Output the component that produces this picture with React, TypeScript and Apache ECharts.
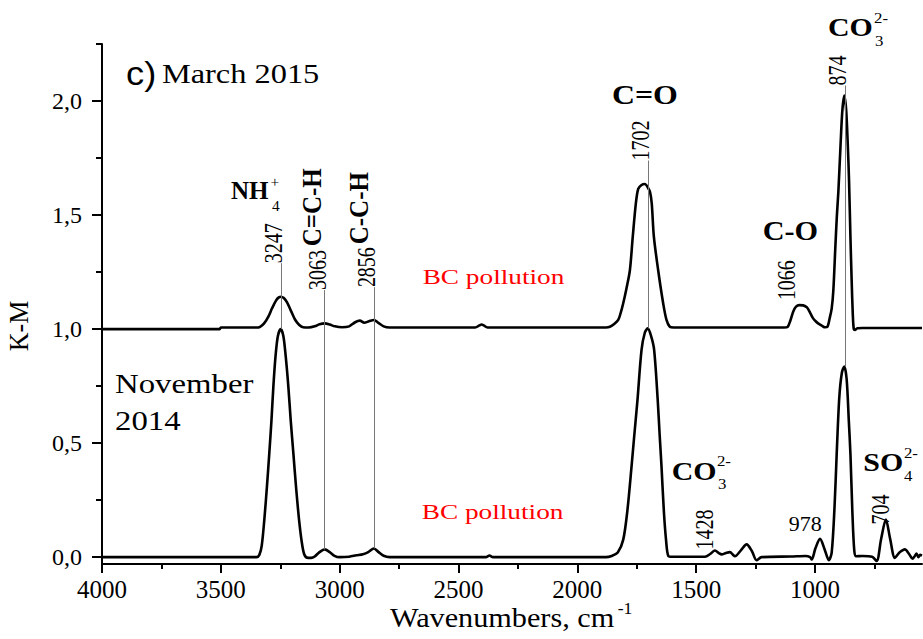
import React, { useEffect, useRef } from "react";
import * as echarts from "echarts";

// Kubelka-Munk spectra, [wavenumber cm-1, K-M]
const march2015: [number, number][] = [
  [4000, 1.0], [3700, 1.0], [3505, 1.0], [3500, 1.007], [3350, 1.007], [3335, 1.01],
  [3318, 1.025], [3300, 1.055], [3285, 1.09], [3268, 1.125], [3256, 1.139], [3247, 1.142],
  [3235, 1.136], [3222, 1.118], [3205, 1.08], [3188, 1.042], [3170, 1.018], [3154, 1.008],
  [3130, 1.007], [3105, 1.012], [3085, 1.021], [3063, 1.025], [3042, 1.02], [3020, 1.012],
  [2990, 1.008], [2960, 1.012], [2935, 1.03], [2915, 1.037], [2897, 1.028], [2877, 1.034],
  [2856, 1.04], [2837, 1.027], [2815, 1.012], [2790, 1.007], [2430, 1.007], [2412, 1.016],
  [2403, 1.02], [2394, 1.016], [2378, 1.007], [1880, 1.007], [1863, 1.01], [1845, 1.022],
  [1828, 1.04], [1818, 1.07], [1807, 1.113], [1793, 1.18], [1779, 1.258], [1767, 1.404],
  [1754, 1.55], [1744, 1.615], [1730, 1.632], [1716, 1.636], [1703, 1.62], [1694, 1.6],
  [1687, 1.55], [1678, 1.404], [1660, 1.258], [1639, 1.113], [1625, 1.04], [1611, 1.01],
  [1595, 1.007], [1130, 1.007], [1115, 1.01], [1103, 1.04], [1092, 1.076], [1080, 1.098],
  [1066, 1.105], [1050, 1.104], [1034, 1.095], [1020, 1.07], [1008, 1.047], [995, 1.032],
  [987, 1.025], [970, 1.014], [958, 1.008], [948, 1.01], [938, 1.05], [930, 1.09],
  [923, 1.17], [915, 1.35], [908, 1.5], [902, 1.6], [893, 1.8], [885, 1.96], [877, 2.024],
  [869, 1.96], [862, 1.8], [857, 1.652], [851, 1.4], [846, 1.215], [841, 1.06], [837, 1.0],
  [832, 0.996], [822, 1.004], [800, 1.005], [700, 1.005], [550, 1.005],
];

const november2014: [number, number][] = [
  [4000, 0], [3350, 0], [3338, 0.01], [3328, 0.05], [3317, 0.165], [3306, 0.31],
  [3296, 0.457], [3287, 0.6], [3279, 0.748], [3270, 0.88], [3260, 0.97], [3248, 1.0],
  [3237, 0.97], [3227, 0.88], [3216, 0.748], [3206, 0.6], [3195, 0.457], [3183, 0.3],
  [3171, 0.165], [3160, 0.07], [3150, 0.015], [3138, -0.002], [3120, -0.003], [3105, 0.003],
  [3085, 0.022], [3063, 0.034], [3042, 0.022], [3022, 0.006], [3000, 0.0], [2960, 0.002],
  [2930, 0.008], [2902, 0.013], [2880, 0.022], [2856, 0.038], [2836, 0.022], [2815, 0.006],
  [2790, 0.0], [2385, 0.0], [2370, 0.007], [2355, 0.0], [1880, 0.0], [1856, 0.005],
  [1830, 0.02], [1807, 0.077], [1790, 0.2], [1772, 0.398], [1760, 0.54], [1747, 0.69],
  [1730, 0.909], [1716, 0.985], [1704, 1.003], [1690, 0.97], [1677, 0.909], [1662, 0.69],
  [1654, 0.54], [1646, 0.398], [1636, 0.2], [1627, 0.077], [1617, 0.005], [1600, 0.002],
  [1463, 0.002], [1440, 0.015], [1421, 0.029], [1405, 0.018], [1393, 0.012], [1375, 0.018],
  [1358, 0.022], [1345, 0.01], [1337, 0.004], [1312, 0.03], [1288, 0.056], [1265, 0.025],
  [1246, -0.013], [1225, 0.0], [1100, 0.003], [1040, 0.005], [1021, 0.0], [1014, -0.01],
  [998, 0.04], [979, 0.08], [960, 0.035], [942, -0.013], [930, 0.02], [918, 0.22],
  [909, 0.45], [898, 0.7], [887, 0.81], [877, 0.836], [867, 0.78], [858, 0.6], [851, 0.45],
  [843, 0.2], [835, 0.03], [827, 0.004], [800, 0.005], [760, 0.002], [741, -0.017],
  [722, 0.08], [702, 0.165], [684, 0.08], [664, -0.003], [645, 0.02], [622, 0.034],
  [605, 0.015], [590, -0.007], [580, 0.005], [573, 0.016], [565, 0.0], [558, 0.01], [550, 0.007],
];

const xTickValues = [4000, 3500, 3000, 2500, 2000, 1500, 1000];
const xMinorTickValues = [3750, 3250, 2750, 2250, 1750, 1250, 750];
const yTickValues = [0, 0.5, 1, 1.5, 2];
const yMinorTickValues = [0.25, 0.75, 1.25, 1.75, 2.25];

// Guide lines: wavenumber, from K-M, to K-M
const peakGuides: [number, number, number][] = [
  [3247, 1.0, 1.289],
  [3063, 0.034, 1.171],
  [2856, 0.038, 1.184],
  [1702, 1.003, 1.739],
  [874, 0.836, 2.068],
];

const SERIF = "Liberation Serif";
const SANS = "Liberation Sans";

type Note = {
  text: string;
  at: [number, number];
  dx?: number;
  size: number;
  bold?: boolean;
  family?: string;
  color?: string;
  rotate?: boolean;
  stretch?: number;
  align?: "left" | "center" | "right";
};

// Annotation placement, anchored in data coordinates
const notes: Note[] = [
  { text: "3247", at: [3247, 1.289], dx: -8, size: 20, rotate: true, stretch: 1.3 },
  { text: "3063", at: [3063, 1.171], dx: -8, size: 20, rotate: true, stretch: 1.3 },
  { text: "2856", at: [2856, 1.184], dx: -8, size: 20, rotate: true, stretch: 1.3 },
  { text: "1702", at: [1702, 1.739], dx: -8, size: 20, rotate: true, stretch: 1.3 },
  { text: "874", at: [874, 2.068], dx: -8, size: 20, rotate: true, stretch: 1.3 },
  { text: "1066", at: [1066, 1.127], dx: -13, size: 20, rotate: true, stretch: 1.3 },
  { text: "1428", at: [1428, 0.034], dx: -9, size: 20, rotate: true, stretch: 1.3 },
  { text: "704", at: [704, 0.143], dx: -5, size: 20, rotate: true, stretch: 1.3 },
  { text: "C=C-H", at: [3063, 1.363], dx: -13, size: 25, bold: true, rotate: true, stretch: 1.1 },
  { text: "C-C-H", at: [2856, 1.372], dx: -15, size: 25, bold: true, rotate: true, stretch: 1.1 },
  { text: "978", at: [978, 0.143], dx: -15, size: 20, stretch: 1.1, align: "center" },
  { text: "c)", at: [3899, 2.122], size: 33, family: SANS, stretch: 1.1 },
  { text: "March 2015", at: [3748, 2.122], size: 27, stretch: 1.2 },
  { text: "November", at: [3945, 0.758], size: 28, stretch: 1.17 },
  { text: "2014", at: [3945, 0.598], size: 28, stretch: 1.17 },
  { text: "BC pollution", at: [2651, 1.228], size: 21, color: "#ff0000", stretch: 1.3 },
  { text: "BC pollution", at: [2655, 0.2], size: 21, color: "#ff0000", stretch: 1.3 },
  { text: "NH", at: [3457, 1.608], size: 25, bold: true },
  { text: "+", at: [3291, 1.645], size: 14, stretch: 1.1 },
  { text: "4", at: [3285, 1.538], size: 14, stretch: 1.1 },
  { text: "C=O", at: [1716, 2.028], size: 27, bold: true, stretch: 1.18, align: "center" },
  { text: "C-O", at: [1104, 1.433], size: 28, bold: true, stretch: 1.08, align: "center" },
  { text: "CO", at: [946, 2.324], size: 26, bold: true, stretch: 1.15 },
  { text: "2-", at: [752, 2.363], size: 14, stretch: 1.2 },
  { text: "3", at: [748, 2.265], size: 14, stretch: 1.2 },
  { text: "CO", at: [1603, 0.376], size: 26, bold: true, stretch: 1.15 },
  { text: "2-", at: [1413, 0.42], size: 14, stretch: 1.2 },
  { text: "3", at: [1408, 0.322], size: 14, stretch: 1.2 },
  { text: "SO", at: [797, 0.416], size: 26, bold: true, stretch: 1.15 },
  { text: "2-", at: [626, 0.458], size: 14, stretch: 1.2 },
  { text: "4", at: [626, 0.355], size: 14, stretch: 1.2 },
  { text: "K-M", at: [4349, 1.014], size: 26, rotate: true, stretch: 1.05, align: "center" },
  { text: "Wavenumbers, cm", at: [2788, -0.264], size: 28, stretch: 1.08 },
  { text: "-1", at: [1830, -0.227], size: 16, stretch: 1.1 },
];

const fmtY = (v: number) => v.toFixed(1).replace(".", ",");

export default function App() {
  const ref = useRef<HTMLDivElement>(null);

  useEffect(() => {
    document.body.style.margin = "0";
    if (!ref.current) return;
    const chart = echarts.init(ref.current, undefined, { renderer: "svg" });

    const xBase = {
      type: "value" as const,
      inverse: true,
      min: 550,
      max: 4000,
      position: "bottom" as const,
      splitLine: { show: false },
    };
    const yBase = {
      type: "value" as const,
      min: -0.03,
      max: 2.25,
      position: "left" as const,
      splitLine: { show: false },
    };

    chart.setOption({
      animation: false,
      backgroundColor: "#ffffff",
      grid: { left: 102, right: 1, top: 44, bottom: 75 },
      xAxis: [
        {
          ...xBase,
          axisLine: { show: true, onZero: false, lineStyle: { color: "#000", width: 2 } },
          axisTick: { show: true, length: 9, lineStyle: { color: "#000", width: 2 }, customValues: xTickValues },
          axisLabel: {
            customValues: xTickValues,
            formatter: (v: number) => String(v),
            margin: 13,
            color: "#000",
            fontFamily: SERIF,
            fontSize: 25,
          },
        },
        {
          ...xBase,
          axisLine: { show: false, onZero: false },
          axisTick: { show: true, length: 5, lineStyle: { color: "#000", width: 2 }, customValues: xMinorTickValues },
          axisLabel: { show: false },
        },
      ],
      yAxis: [
        {
          ...yBase,
          axisLine: { show: true, onZero: false, lineStyle: { color: "#000", width: 2 } },
          axisTick: { show: true, length: 10, lineStyle: { color: "#000", width: 2 }, customValues: yTickValues },
          axisLabel: {
            customValues: yTickValues,
            formatter: (v: number) => fmtY(v),
            margin: 20,
            color: "#000",
            fontFamily: SERIF,
            fontSize: 24,
          },
        },
        {
          ...yBase,
          axisLine: { show: false, onZero: false },
          axisTick: { show: true, length: 6, lineStyle: { color: "#000", width: 2 }, customValues: yMinorTickValues },
          axisLabel: { show: false },
        },
      ],
      series: [
        {
          name: "March 2015",
          type: "line",
          xAxisIndex: 0,
          yAxisIndex: 0,
          data: march2015,
          showSymbol: false,
          smooth: 0.3,
          clip: false,
          lineStyle: { color: "#000", width: 2.6 },
          z: 3,
        },
        {
          name: "November 2014",
          type: "line",
          xAxisIndex: 0,
          yAxisIndex: 0,
          data: november2014,
          showSymbol: false,
          smooth: 0.3,
          clip: false,
          lineStyle: { color: "#000", width: 2.6 },
          z: 3,
          markLine: {
            silent: true,
            symbol: ["none", "none"],
            label: { show: false },
            lineStyle: { color: "#777", width: 1, type: "solid" },
            data: peakGuides.map(([w, a, b]) => [{ coord: [w, a] }, { coord: [w, b] }]),
          },
        },
      ],
    });

    const elements = notes.map((n) => {
      const p = chart.convertToPixel({ seriesIndex: 0 }, n.at) as number[];
      const s = n.stretch ?? 1;
      return {
        type: "text",
        x: p[0] + (n.dx ?? 0),
        y: p[1],
        rotation: n.rotate ? Math.PI / 2 : 0,
        scaleX: n.rotate ? 1 : s,
        scaleY: n.rotate ? s : 1,
        z: 10,
        silent: true,
        style: {
          text: n.text,
          fill: n.color ?? "#000",
          fontSize: n.size,
          fontFamily: n.family ?? SERIF,
          fontWeight: n.bold ? "bold" : "normal",
          align: n.align ?? "left",
          textAlign: n.align ?? "left",
          verticalAlign: "middle",
          textVerticalAlign: "middle",
        },
      };
    });
    chart.setOption({ graphic: { elements } });

    return () => chart.dispose();
  }, []);

  return <div ref={ref} style={{ width: 923, height: 639 }} />;
}
